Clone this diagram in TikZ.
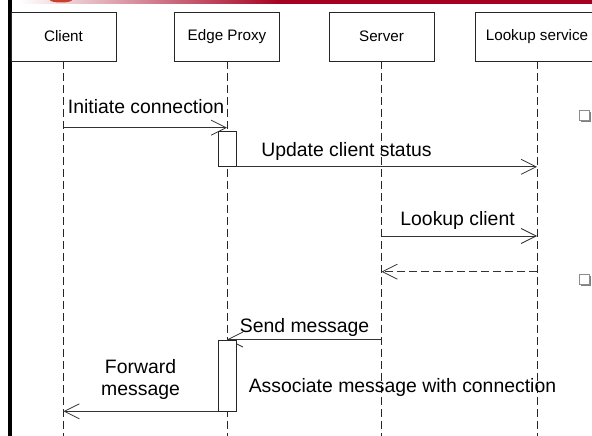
\documentclass[tikz,border=0pt]{standalone}
\usepackage{fontspec}
\setmainfont{Liberation Sans}
\usepackage{xcolor}
\usetikzlibrary{arrows.meta, shadows}

\definecolor{HeadRed}{HTML}{A50021}
\definecolor{LogoRed}{HTML}{C8402A}

\begin{document}
\begin{tikzpicture}[x=1pt, y=-1pt,
  actor/.style={rectangle, draw=black!85, fill=white, minimum width=105pt,
    minimum height=49pt, inner sep=1pt, font=\fontsize{15.2}{18}\selectfont},
  %
  lifeline/.style={draw=black!85, dash pattern=on 8pt off 4pt},
  %
  activation/.style={rectangle, draw=black!85, fill=white,
    minimum width=18pt, inner sep=0pt},
  %
  message/.style={draw=black!80, -{Straight Barb[length=15pt, width=15pt]}},
  %
  answer/.style={message, dash pattern=on 8pt off 4pt},
  %
  msglabel/.style={inner sep=0pt, font=\fontsize{19.4}{22}\selectfont},
  %
  bullet/.style={rectangle, draw=black!45, fill=white, minimum size=10pt,
    inner sep=0pt, drop shadow={shadow xshift=1.8pt, shadow yshift=-1.8pt,
      fill=black!50, opacity=1}}
  ]

  \tikzset{every path/.style={line width=.8pt}}

  \useasboundingbox (0,0) rectangle (592,436);

  % slide frame
  \begin{scope}
    \fill [HeadRed] (280,0) rectangle (592,3.6);
    \shade [left color=white, right color=HeadRed] (20,0) rectangle (281,3.6);
    \fill [LogoRed] (61,0) ellipse [x radius=11, y radius=2.5];
    \draw [black, line width=4pt] (9.5,0) -- (9.5,436);
    \node [bullet] (bullet1) at (584,115.5) {};
    \node [bullet] (bullet2) at (584,279.5) {};
  \end{scope}

  % actors and lifelines
  \begin{scope}
    \node [actor] (client) at (63.5,36.5) {Client};
    \node [actor] (proxy) at (227,36.5) {Edge Proxy};
    \node [actor] (server) at (381.5,36.5) {Server};
    \node [actor, minimum width=124pt] (lookup) at (537,36.5) {Lookup service};
    \coordinate (bottom) at (0,436);
    \foreach \who in {client, proxy, server, lookup}
      \draw [lifeline] (\who.south) -- (\who |- bottom);
  \end{scope}

  % messages
  \begin{scope}
    \coordinate (r1) at (0,127.7);
    \coordinate (r2) at (0,236);
    \coordinate (r3) at (0,271.7);
    \coordinate (r4) at (0,339.5);
    %
    \draw [message] (client |- r1) -- (proxy |- r1)
    node [msglabel, at start, anchor=base west, xshift=4, yshift=14]
    {Initiate connection};
    \node [activation, minimum height=35pt, anchor=north] (act1)
    at (proxy |- 0,131) {};
    %
    \draw [message] (act1.south east) -- (lookup |- act1.south)
    node [msglabel, at start, anchor=base west, xshift=24.5, yshift=10.5]
    {Update client status};
    %
    \draw [message] (server |- r2) -- (lookup |- r2)
    node [msglabel, at start, anchor=base west, xshift=18.5, yshift=11]
    {Lookup client};
    \draw [answer] (lookup |- r3) -- (server |- r3);
    %
    \draw [message] (server |- r4) -- (proxy |- r4)
    node [msglabel, at end, anchor=base west, xshift=12.5, yshift=7]
    {Send message};
    \node [activation, minimum height=71pt, anchor=north] (act2)
    at (proxy |- r4) {};
    %
    \draw [message] (act2.south west) -- (client |- act2.south)
    node [msglabel, midway, anchor=south, align=center, yshift=11]
    {Forward\\message};
    \node [msglabel, anchor=base west, xshift=12, yshift=19] (assoc)
    at (act2.south east) {Associate message with connection};
  \end{scope}

\end{tikzpicture}
\end{document}
